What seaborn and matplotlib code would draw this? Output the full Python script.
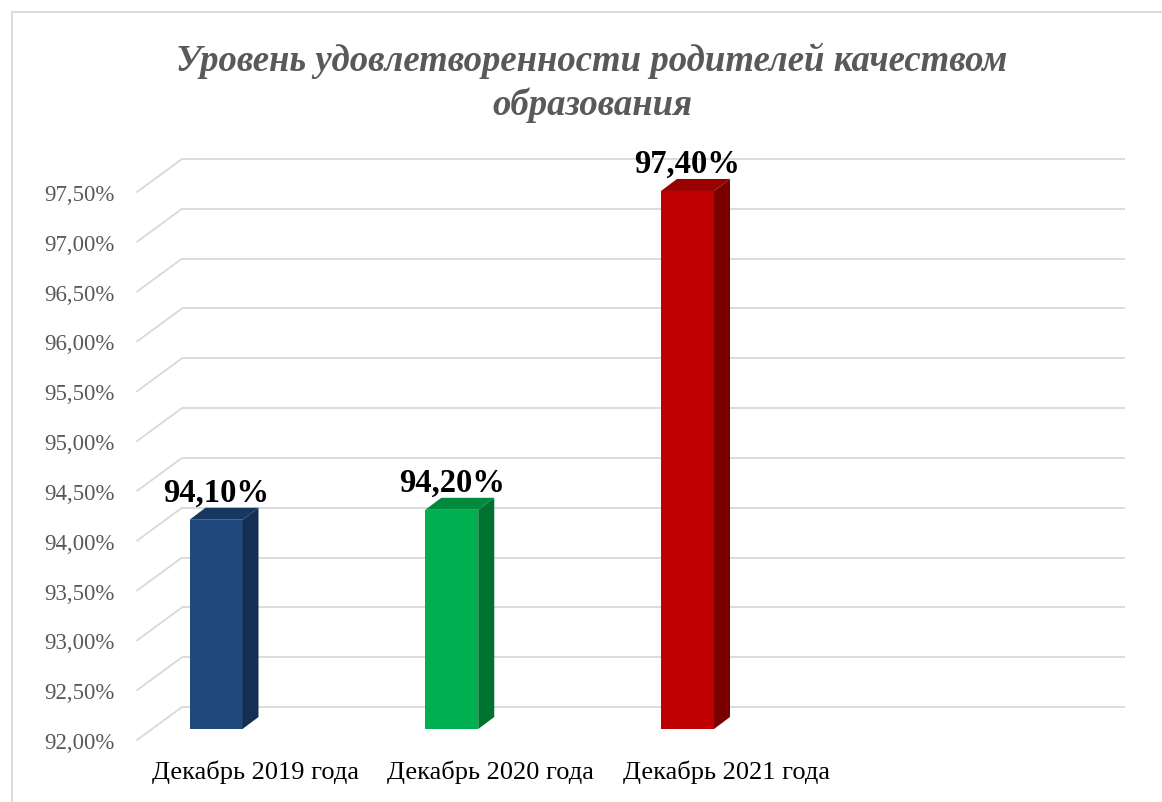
import numpy as np
import pandas as pd
import matplotlib
matplotlib.use("Agg")
import matplotlib.pyplot as plt
import seaborn as sns
from matplotlib.patches import Polygon, Rectangle
from matplotlib.ticker import FuncFormatter

# data
categories = ["Декабрь 2019 года", "Декабрь 2020 года", "Декабрь 2021 года"]
values = [94.1, 94.2, 97.4]
value_labels = ["94,10%", "94,20%", "97,40%"]
front_colors = ["#1F497D", "#00B050", "#C00000"]
side_colors = ["#142F52", "#00722F", "#7A0000"]
top_colors = ["#17375E", "#008A3E", "#990000"]
y_ticks = np.arange(92.0, 97.51, 0.5)

W, H = 1162, 803
sns.set_style("white")
plt.rcParams["font.family"] = ["Liberation Serif", "DejaVu Serif"]

fig = plt.figure(figsize=(W / 100, H / 100), dpi=100)
# axes = front plane of the pseudo-3d box
ax_l, ax_r, ax_b, ax_t = 137, 1080, 62, 610
ax = fig.add_axes([ax_l / W, ax_b / H, (ax_r - ax_l) / W, (ax_t - ax_b) / H])

px_x = 235.75  # pixels per category
x0 = (ax_l - 216) / px_x
x1 = (ax_r - 216) / px_x
ax.set_xlim(x0, x1)
ax.set_ylim(92.0, 97.5)
px_y = (ax_t - ax_b) / 5.5

DX, DY = 45 / px_x, 33 / px_y   # full depth of the box
bx, by = 16 / px_x, 12 / px_y   # depth of a bar
d = 11 / px_y                   # bars sit a bit behind the front plane

df = pd.DataFrame({"cat": categories, "val": values})
sns.barplot(data=df, x="cat", y="val", hue="cat", palette=front_colors,
            legend=False, width=53 / px_x, ax=ax, zorder=3, saturation=1)
ax.set_xlim(x0, x1)
ax.set_ylim(92.0, 97.5)

# back wall grid + left wall diagonals
for yv in y_ticks:
    ax.plot([x0 + DX, x1 + DX], [yv + DY, yv + DY], color="#D9D9D9", lw=1.3,
            zorder=1, clip_on=False, solid_capstyle="butt")
    ax.plot([x0, x0 + DX], [yv, yv + DY], color="#D9D9D9", lw=1.3,
            zorder=1, clip_on=False)

bars = sorted(ax.patches, key=lambda p: p.get_x())
for i, p in enumerate(bars):
    v = values[i]
    p.set_y(92.0 + d)
    p.set_height(v - 92.0)
    p.set_clip_on(False)
    p.set_edgecolor("none")
    xl = p.get_x()
    xr = xl + p.get_width()
    b, t = 92.0 + d, v + d
    ax.add_patch(Polygon([(xr, b), (xr, t), (xr + bx, t + by), (xr + bx, b + by)],
                         closed=True, facecolor=side_colors[i], edgecolor="none",
                         zorder=3, clip_on=False))
    ax.add_patch(Polygon([(xl, t), (xr, t), (xr + bx, t + by), (xl + bx, t + by)],
                         closed=True, facecolor=top_colors[i], edgecolor="none",
                         zorder=3, clip_on=False))
    ax.annotate(value_labels[i], (xl + p.get_width() / 2, t), xytext=(0, 13.5),
                textcoords="offset points", ha="center", va="baseline",
                fontsize=23.5, fontweight="bold", color="black", zorder=5,
                annotation_clip=False)

for s in ax.spines.values():
    s.set_visible(False)
ax.grid(False)
ax.set_xlabel("")
ax.set_ylabel("")
ax.set_yticks(y_ticks)
ax.yaxis.set_major_formatter(FuncFormatter(lambda v, pos: f"{v:.2f}".replace(".", ",") + "%"))
ax.tick_params(axis="y", length=0, pad=16, labelsize=16.5, labelcolor="#595959")
ax.set_xticks([i + 39 / px_x for i in range(len(categories))])
ax.set_xticklabels(categories)
ax.tick_params(axis="x", length=0, pad=14, labelsize=19, labelcolor="black")

# chart border
fig.patches.append(Rectangle((12 / W, -0.1), 1.2, 1 - 13 / H + 0.1, transform=fig.transFigure,
                             fill=False, edgecolor="#D9D9D9", lw=1.3))

fig.text(592 / W, 1 - 43 / H, "Уровень удовлетворенности родителей качеством\nобразования",
         ha="center", va="top", fontsize=26.5, fontweight="bold", fontstyle="italic",
         color="#595959", linespacing=1.3)

fig.savefig("out.png", dpi=100)
